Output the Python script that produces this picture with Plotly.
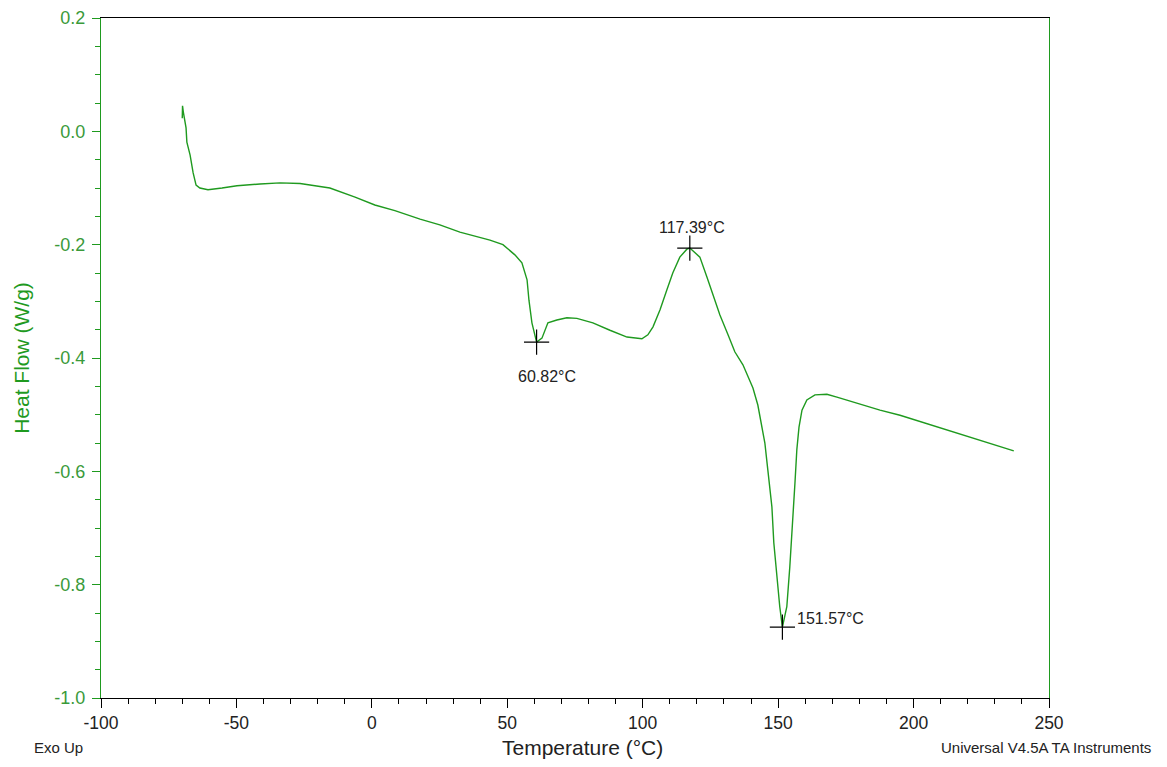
import plotly.graph_objects as go

temperature = [-70.0, -69.9, -69.6, -68.6, -68.3, -67.1, -66.0, -64.9, -63.5, -60.5, -55.3, -49.8,
               -41.3, -33.9, -26.5, -15.5, -6.2, 1.1, 8.5, 17.8, 25.1, 32.5, 43.6, 48.4, 52.8,
               55.4, 57.3, 58.0, 59.1, 60.82, 62.8, 65.0, 68.3, 72.0, 75.7, 81.6, 87.9, 94.2,
               99.7, 101.9, 103.8, 106.4, 108.9, 111.1, 113.7, 116.3, 117.39, 121.1, 123.7,
               128.5, 131.5, 134.0, 137.0, 140.7, 142.5, 144.0, 145.1, 146.2, 147.7, 148.4,
               149.5, 150.6, 151.57, 153.2, 154.3, 155.4, 156.2, 156.9, 157.7, 158.8, 160.6,
               163.6, 168.0, 171.7, 179.1, 187.6, 195.0, 237.0]
heat_flow = [0.023, 0.045, 0.034, 0.006, -0.019, -0.042, -0.073, -0.095, -0.100, -0.103, -0.100,
             -0.096, -0.093, -0.091, -0.092, -0.100, -0.116, -0.130, -0.140, -0.155, -0.165,
             -0.178, -0.192, -0.200, -0.218, -0.232, -0.262, -0.298, -0.338, -0.372, -0.365,
             -0.338, -0.333, -0.329, -0.330, -0.338, -0.351, -0.363, -0.366, -0.359, -0.345,
             -0.315, -0.280, -0.250, -0.222, -0.208, -0.206, -0.222, -0.257, -0.324, -0.359,
             -0.389, -0.412, -0.453, -0.483, -0.522, -0.550, -0.598, -0.663, -0.726, -0.786,
             -0.839, -0.875, -0.839, -0.769, -0.691, -0.621, -0.562, -0.522, -0.492, -0.474,
             -0.465, -0.464, -0.469, -0.480, -0.492, -0.501, -0.564]

peak_temps = [60.82, 117.39, 151.57]
peak_flows = [-0.372, -0.206, -0.875]
peak_labels = ["60.82°C", "117.39°C", "151.57°C"]

x_tickvals = [-100, -50, 0, 50, 100, 150, 200, 250]
x_ticktext = ["-100", "-50", "0", "50", "100", "150", "200", "250"]
y_tickvals = [0.2, 0.0, -0.2, -0.4, -0.6, -0.8, -1.0]
y_ticktext = ["0.2", "0.0", "-0.2", "-0.4", "-0.6", "-0.8", "-1.0"]

GREEN = "#1f9a1f"
FONT = "Arial, Liberation Sans, sans-serif"
TXT = "#222"

fig = go.Figure()
fig.add_trace(go.Scatter(x=temperature, y=heat_flow, mode="lines",
                         line=dict(color=GREEN, width=1.4),
                         showlegend=False, hoverinfo="skip"))
fig.add_trace(go.Scatter(x=peak_temps, y=peak_flows, mode="markers",
                         marker=dict(symbol="cross-thin", size=18,
                                     line=dict(color="black", width=1.2)),
                         showlegend=False))

fig.add_annotation(x=peak_temps[0], y=peak_flows[0], text=peak_labels[0], showarrow=False,
                   yshift=-34, xshift=10, font=dict(size=16, color=TXT, family=FONT))
fig.add_annotation(x=peak_temps[1], y=peak_flows[1], text=peak_labels[1], showarrow=False,
                   yshift=21, xshift=2, font=dict(size=16, color=TXT, family=FONT))
fig.add_annotation(x=peak_temps[2], y=peak_flows[2], text=peak_labels[2], showarrow=False,
                   xanchor="left", xshift=13, yshift=9, font=dict(size=16, color=TXT, family=FONT))
fig.add_annotation(xref="paper", yref="paper", x=-0.073, y=-0.073, xanchor="left", yanchor="middle",
                   text="Exo Up", showarrow=False, font=dict(size=15, color=TXT, family=FONT))
fig.add_annotation(xref="paper", yref="paper", x=1.1095, y=-0.073, xanchor="right", yanchor="middle",
                   text="Universal V4.5A TA Instruments", showarrow=False,
                   font=dict(size=15, color=TXT, family=FONT))
fig.add_annotation(xref="paper", yref="paper", x=0.5075, y=-0.0735, xanchor="center", yanchor="middle",
                   text="Temperature (°C)", showarrow=False,
                   font=dict(size=21, color=TXT, family=FONT))

fig.update_layout(
    width=1167, height=767,
    margin=dict(l=101, r=118, t=18, b=69),
    paper_bgcolor="white", plot_bgcolor="white",
    font=dict(family=FONT),
    xaxis=dict(range=[-100, 250], tickvals=x_tickvals, ticktext=x_ticktext,
               showgrid=False, zeroline=False, automargin=False,
               showline=True, linecolor="black", linewidth=1.2, mirror=True,
               ticks="outside", ticklen=9, tickcolor="black",
               minor=dict(dtick=10, tick0=0, ticks="outside", ticklen=5, tickcolor="black"),
               tickfont=dict(size=17.5, color=TXT)),
    yaxis=dict(range=[-1.0, 0.2], tickvals=y_tickvals, ticktext=y_ticktext,
               showgrid=False, zeroline=False, automargin=False,
               showline=True, linecolor=GREEN, linewidth=1.2, mirror=True,
               ticks="outside", ticklen=8, tickcolor=GREEN, ticklabelstandoff=3,
               minor=dict(dtick=0.05, tick0=0, ticks="outside", ticklen=5, tickcolor=GREEN),
               tickfont=dict(size=18, color="#3a9a3a"),
               title=dict(text="Heat Flow (W/g)", font=dict(size=21, color=GREEN), standoff=18)),
)

fig.write_html("out.html", config={"displayModeBar": False},
               post_script="document.body.style.margin='0';document.body.style.overflow='hidden';")
